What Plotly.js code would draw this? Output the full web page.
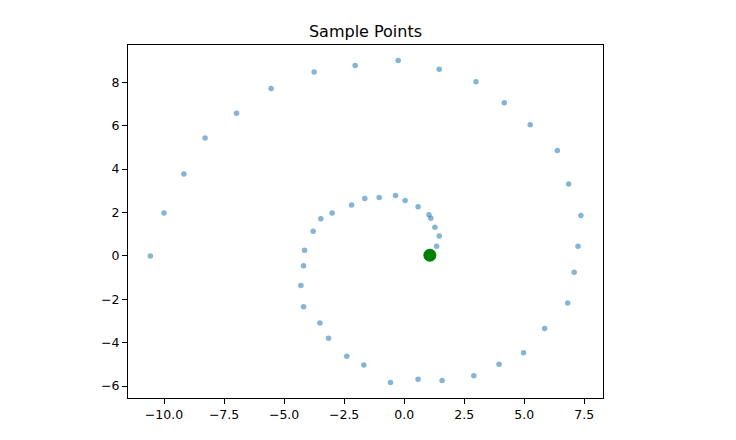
<!DOCTYPE html>
<html>
<head>
<meta charset="utf-8">
<script src="https://cdn.plot.ly/plotly-3.0.1.min.js"></script>
<style>html,body{margin:0;padding:0;background:#fff;}#chart{width:736px;height:440px;}</style>
</head>
<body>
<div id="chart"></div>
<script>
const spiralX = [1.35, 1.46, 1.28, 1.11, 1.03, 0.58, 0.04, -0.36, -1.04, -1.64, -2.19, -3.00, -3.47, -3.79, -4.15, -4.19, -4.30, -4.19, -3.51, -3.15, -2.39, -1.68, -0.57, 0.58, 1.58, 2.90, 3.95, 4.97, 5.85, 6.81, 7.08, 7.24, 7.36, 6.85, 6.38, 5.25, 4.17, 2.99, 1.46, -0.25, -2.04, -3.75, -5.54, -6.98, -8.29, -9.17, -10.00, -10.57];
const spiralY = [0.45, 0.92, 1.32, 1.73, 1.90, 2.26, 2.55, 2.78, 2.69, 2.65, 2.34, 1.98, 1.71, 1.14, 0.26, -0.45, -1.37, -2.34, -3.09, -3.80, -4.63, -5.03, -5.83, -5.69, -5.74, -5.52, -5.00, -4.46, -3.35, -2.17, -0.75, 0.45, 1.86, 3.31, 4.86, 6.05, 7.06, 8.03, 8.60, 9.00, 8.78, 8.48, 7.72, 6.58, 5.43, 3.78, 1.98, 0.00];
const centerX = [1.07];
const centerY = [0.03];
const xTicks = [-10, -7.5, -5, -2.5, 0, 2.5, 5, 7.5];
const yTicks = [-6, -4, -2, 0, 2, 4, 6, 8];

const font = {family: 'DejaVu Sans', size: 12.5, color: '#000'};
const axisCommon = {
  showgrid: false, zeroline: false, showline: true, mirror: true,
  linecolor: '#000', linewidth: 1, ticks: 'outside', ticklen: 5, tickwidth: 1,
  tickcolor: '#000', tickfont: font, tickmode: 'array'
};

Plotly.newPlot('chart', [
  {x: spiralX, y: spiralY, type: 'scatter', mode: 'markers',
   marker: {color: 'rgba(31,119,180,0.55)', size: 5.5, line: {width: 0}}, hoverinfo: 'skip'},
  {x: centerX, y: centerY, type: 'scatter', mode: 'markers',
   marker: {color: 'green', size: 13, line: {width: 0}}, hoverinfo: 'skip'}
], {
  width: 736, height: 440,
  margin: {l: 128, r: 133, t: 45, b: 42},
  paper_bgcolor: '#fff', plot_bgcolor: '#fff',
  showlegend: false,
  font: font,
  title: {text: 'Sample Points', font: {family: 'DejaVu Sans', size: 16, color: '#000'},
          x: 0.5, xref: 'paper', y: 1, yref: 'paper', yanchor: 'bottom', pad: {b: 8}},
  xaxis: Object.assign({}, axisCommon, {range: [-11.5, 8.28], tickvals: xTicks,
    ticktext: xTicks.map(v => (v < 0 ? '\u2212' : '') + Math.abs(v).toFixed(1))}),
  yaxis: Object.assign({}, axisCommon, {range: [-6.55, 9.72], tickvals: yTicks,
    ticktext: yTicks.map(v => (v < 0 ? '\u2212' : '') + Math.abs(v))})
}, {staticPlot: true});
</script>
</body>
</html>
